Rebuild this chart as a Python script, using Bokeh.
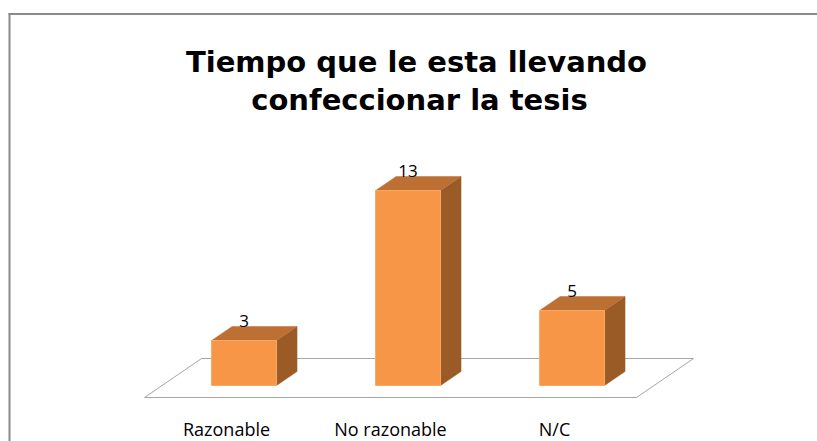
from bokeh.plotting import figure
from bokeh.models import Range1d, BoxAnnotation
from bokeh.core.properties import value
from bokeh.embed import file_html
from bokeh.resources import INLINE

# ---- data ----
categories = ["Razonable", "No razonable", "N/C"]
counts = [3, 13, 5]
title_lines = ["Tiempo que le esta llevando", "confeccionar la tesis"]

# ---- layout helpers (picture pixel -> data units) ----
W, H = 817, 441
X_ORIGIN_PX, X_PX_PER_UNIT = 226.0, 164.0   # category 0 at picture x 226
Y_ORIGIN_PX, Y_PX_PER_UNIT = 385.0, 15.0    # value 0 at picture y 385


def dx(px):
    return (px - X_ORIGIN_PX) / X_PX_PER_UNIT


def dy(py):
    return (Y_ORIGIN_PX - py) / Y_PX_PER_UNIT


p = figure(width=W, height=H, output_backend="svg", toolbar_location=None,
           x_range=Range1d(dx(0), dx(W)), y_range=Range1d(dy(H), dy(0)),
           min_border=0)
p.xaxis.visible = False
p.yaxis.visible = False
p.grid.visible = False
p.outline_line_color = None
p.background_fill_color = "white"
p.border_fill_color = "white"

# chart border (only left and top edges fall inside the picture)
BORDER = "#8a8a8a"
p.add_layout(BoxAnnotation(left=dx(8), right=dx(10), top=dy(12.5), bottom=None,
                           fill_color=BORDER, fill_alpha=1, line_color=None))
p.add_layout(BoxAnnotation(left=dx(8), right=None, top=dy(12.5), bottom=dy(14.5),
                           fill_color=BORDER, fill_alpha=1, line_color=None))

# ---- 3D geometry ----
FDX, FDY = 0.348, 2.6          # full floor depth offset
FLOOR_Y = -0.8
n = len(categories)
floor_x0, floor_x1 = -0.5, n - 0.5
p.patch([floor_x0, floor_x1, floor_x1 + FDX, floor_x0 + FDX],
        [FLOOR_Y, FLOOR_Y, FLOOR_Y + FDY, FLOOR_Y + FDY],
        fill_color="white", line_color="#a6a6a6", line_width=1)

d0, d1 = 0.308, 0.667
fx, fy = d0 * FDX, FLOOR_Y + d0 * FDY
ddx, ddy = (d1 - d0) * FDX, (d1 - d0) * FDY
hw = 0.198

front_xs, front_ys, top_xs, top_ys, side_xs, side_ys = [], [], [], [], [], []
lab_x, lab_y, lab_t = [], [], []
for i, v in enumerate(counts):
    L = i + fx - hw
    R = i + fx + hw
    b = fy
    t = fy + v
    front_xs.append([L, R, R, L]); front_ys.append([b, b, t, t])
    top_xs.append([L, R, R + ddx, L + ddx]); top_ys.append([t, t, t + ddy, t + ddy])
    side_xs.append([R, R + ddx, R + ddx, R]); side_ys.append([b, b + ddy, t + ddy, t])
    lab_x.append(i + fx); lab_y.append(t + 1.33); lab_t.append(str(v))

p.patches(side_xs, side_ys, fill_color="#9b5b27", line_color="#9b5b27", line_width=0.5)
p.patches(top_xs, top_ys, fill_color="#bd7034", line_color="#bd7034", line_width=0.5)
p.patches(front_xs, front_ys, fill_color="#f79646", line_color="#f9a766", line_width=1)

p.text(lab_x, lab_y, text=lab_t, text_align="center", text_baseline="middle",
       text_font=value("Open Sans"), text_font_size="17px", text_color="#000000")

# category labels
p.text(list(range(n)), [dy(428)] * n, text=categories, text_align="center",
       text_baseline="alphabetic", text_font=value("Open Sans"),
       text_font_size="18px", text_color="#000000")

# title
p.text([dx(416), dx(419)], [dy(61), dy(99)], text=title_lines, text_align="center",
       text_baseline="alphabetic", text_font=value("DejaVu Sans"),
       text_font_size="29px", text_font_style="bold", text_color="#000000")

open("out.html", "w").write(file_html(p, INLINE))
